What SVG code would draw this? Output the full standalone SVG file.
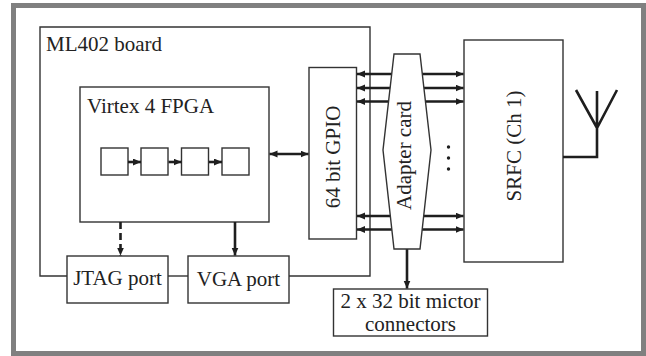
<svg xmlns="http://www.w3.org/2000/svg" width="646" height="356" viewBox="0 0 646 356">
<style>
.box{fill:#fff;stroke:#333;stroke-width:1.4}
.ln{fill:none;stroke:#333;stroke-width:1.4}
.ar{fill:none;stroke:#1e1e1e;stroke-width:2.6}
.t{font-family:"Liberation Serif","Times New Roman",serif;font-size:21px;fill:#222}
.m{text-anchor:middle}
</style>
<defs>
<marker id="ah" markerUnits="userSpaceOnUse" markerWidth="9" markerHeight="8" refX="8" refY="3.5" orient="auto-start-reverse">
<path d="M0,0 L8,3.5 L0,7 z" fill="#1e1e1e"/>
</marker>
</defs>
<rect x="13.5" y="5.5" width="630" height="348" fill="#fff" stroke="#808080" stroke-width="5"/>

<g id="board">
<path class="ln" d="M67,276 H40 V27 H370 V276 H289"/>
<text class="t" x="46" y="51">ML402 board</text>
</g>

<g id="fpga">
<rect class="box" x="80" y="87" width="189" height="135"/>
<text class="t" x="87" y="113">Virtex 4 FPGA</text>
</g>
<g id="reg1"><rect class="box" x="101" y="148" width="27" height="27"/></g>
<g id="reg2"><rect class="box" x="141" y="148" width="27" height="27"/></g>
<g id="reg3"><rect class="box" x="181.5" y="148" width="27" height="27"/></g>
<g id="reg4"><rect class="box" x="222" y="148" width="27" height="27"/></g>

<g id="jtag">
<rect class="box" x="67" y="256" width="101" height="47"/>
<text class="t m" x="117.5" y="285">JTAG port</text>
</g>
<g id="vga">
<rect class="box" x="188" y="256" width="101" height="47"/>
<text class="t m" x="238.5" y="286">VGA port</text>
</g>

<g id="gpio">
<rect class="box" x="309" y="67.5" width="47.5" height="171.5"/>
<text class="t m" transform="translate(340,157) rotate(-90)">64 bit GPIO</text>
</g>

<g id="srfc">
<rect class="box" x="464" y="40" width="99" height="222"/>
<text class="t m" transform="translate(521,146) rotate(-90)">SRFC (Ch 1)</text>
</g>

<g id="mictor">
<rect class="box" x="333.5" y="289" width="154" height="47"/>
<text class="t m" x="410.5" y="308">2 x 32 bit mictor</text>
<text class="t m" x="410.5" y="331">connectors</text>
</g>

<g id="connectors">
<path class="ar" d="M269.5,154 H308.5" marker-start="url(#ah)" marker-end="url(#ah)"/>
<path class="ar" d="M128,162 H141" marker-end="url(#ah)"/>
<path class="ar" d="M168.5,162 H181.5" marker-end="url(#ah)"/>
<path class="ar" d="M209,162 H222" marker-end="url(#ah)"/>
<path class="ar" d="M120.5,222 V255.5" stroke-dasharray="7,4" marker-end="url(#ah)"/>
<path class="ar" d="M235,222 V255.5" marker-end="url(#ah)"/>
<path class="ln" d="M168,276 H188"/>
<path class="ar" d="M357,74 H463.5" marker-start="url(#ah)" marker-end="url(#ah)"/>
<path class="ar" d="M357,88 H463.5" marker-start="url(#ah)" marker-end="url(#ah)"/>
<path class="ar" d="M357,101.5 H463.5" marker-start="url(#ah)" marker-end="url(#ah)"/>
<path class="ar" d="M357,216 H463.5" marker-start="url(#ah)" marker-end="url(#ah)"/>
<path class="ar" d="M357,229.5 H463.5" marker-start="url(#ah)" marker-end="url(#ah)"/>
<path class="ar" d="M407,249 V288.5" marker-end="url(#ah)"/>
<path class="ar" d="M563,157 H597 V91 M576,90 L597,128 L617,90" stroke-width="2.2"/>
</g>

<g id="adapter">
<polygon class="box" points="394,54 420,54 431,150 420,249 394,249 383,150"/>
<text class="t m" transform="translate(410.5,155.5) rotate(-90)">Adapter card</text>
</g>

<g id="dots" fill="#1e1e1e">
<circle cx="448.5" cy="147" r="1.7"/>
<circle cx="448.5" cy="158" r="1.7"/>
<circle cx="448.5" cy="169" r="1.7"/>
</g>
</svg>
